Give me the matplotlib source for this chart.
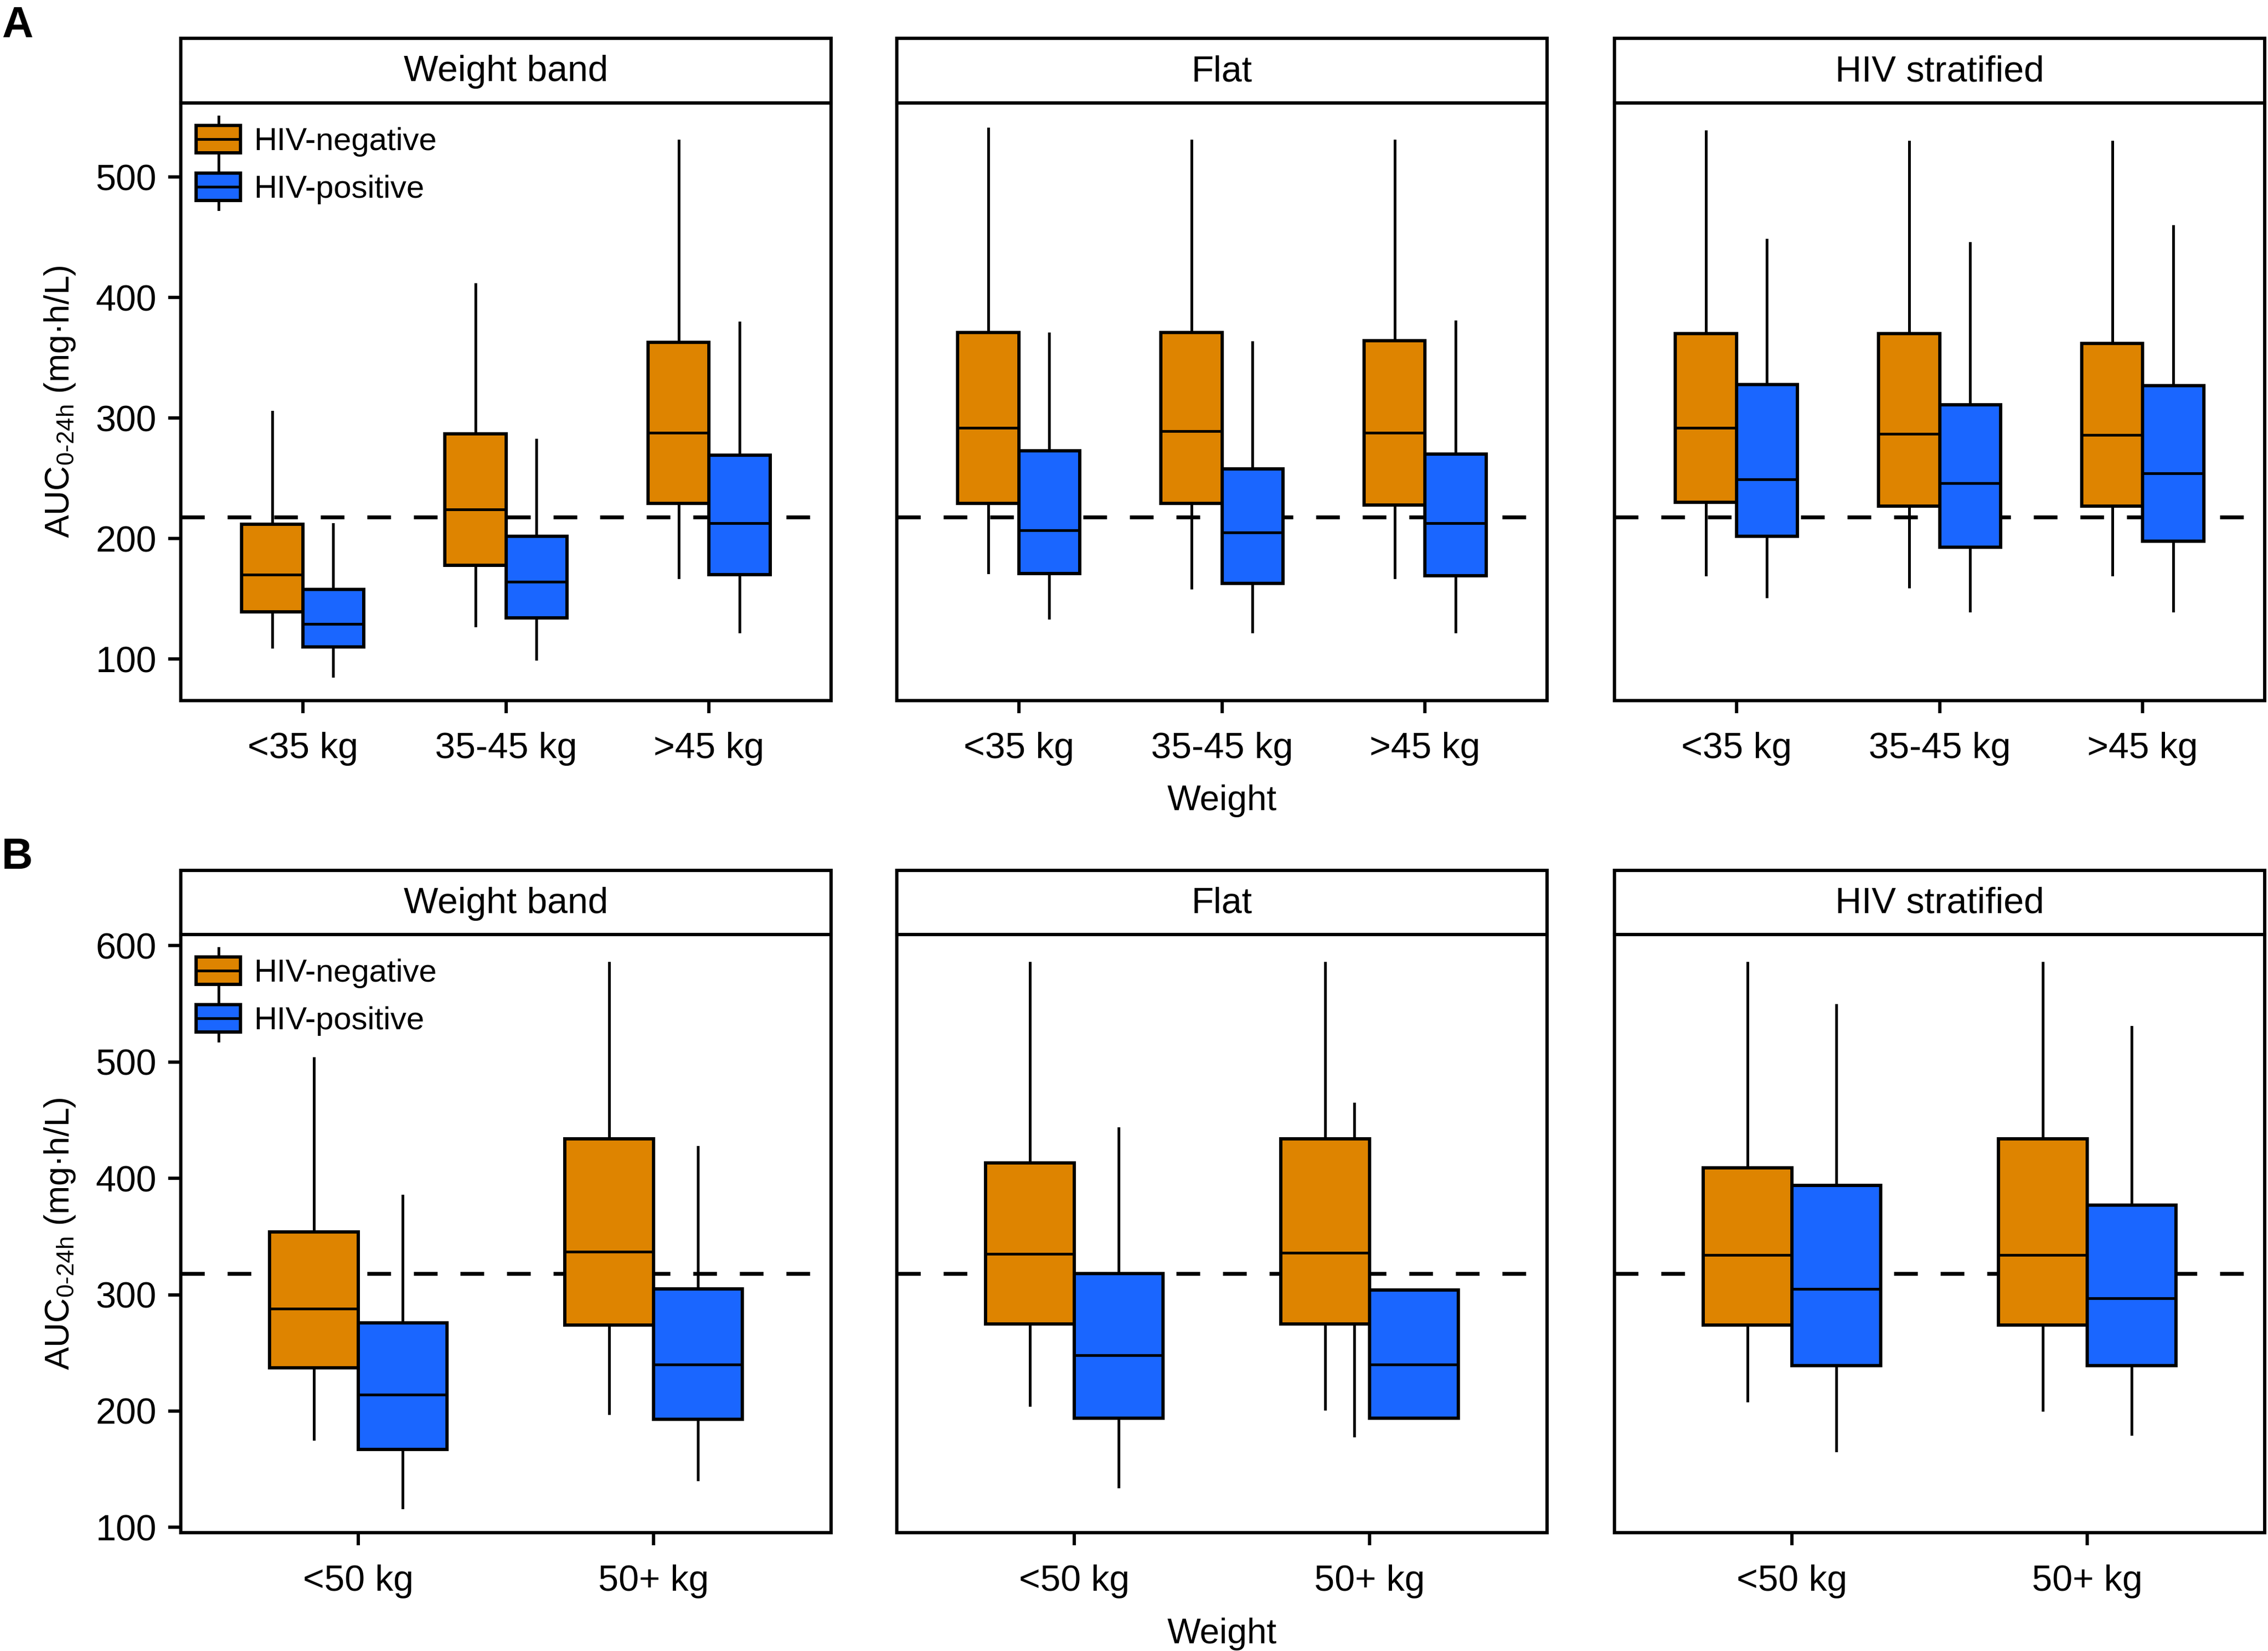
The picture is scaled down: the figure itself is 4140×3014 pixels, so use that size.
import numpy as np
import matplotlib
matplotlib.use('Agg')
import matplotlib.pyplot as plt
from matplotlib.legend_handler import HandlerBase
from matplotlib.lines import Line2D
from matplotlib.patches import Patch, Rectangle

plt.rcParams['font.family'] = ['Liberation Sans', 'DejaVu Sans']
plt.rcParams['mathtext.fontset'] = 'custom'
plt.rcParams['mathtext.rm'] = 'Liberation Sans'
plt.rcParams['mathtext.it'] = 'Liberation Sans:italic'

schemes = ['Weight band', 'Flat', 'HIV stratified']
series = ['HIV-negative', 'HIV-positive']

# (whisker low, q1, median, q3, whisker high) per scheme, per weight group
groups_a = ['<35 kg', '35-45 kg', '>45 kg']
a_neg = [[(110, 139, 170, 212, 305), (128, 178, 224, 287, 411), (168, 229, 288, 363, 530)],
         [(172, 229, 292, 371, 540), (159, 229, 289, 371, 530), (168, 228, 288, 364, 530)],
         [(170, 230, 292, 370, 538), (160, 227, 287, 370, 529), (170, 227, 286, 362, 529)]]
a_pos = [[(86, 110, 129, 158, 212), (100, 134, 164, 202, 282), (123, 170, 213, 269, 379)],
         [(134, 171, 207, 273, 370), (123, 163, 205, 258, 363), (123, 169, 213, 270, 380)],
         [(152, 202, 249, 328, 448), (140, 193, 246, 311, 445), (140, 198, 254, 327, 459)]]
target_a = 218

groups_b = ['<50 kg', '50+ kg']
b_neg = [[(176, 237, 288, 354, 503), (198, 274, 337, 434, 585)],
         [(205, 275, 335, 413, 585), (202, 275, 336, 434, 585)],
         [(209, 274, 334, 409, 585), (201, 274, 334, 434, 585)]]
b_pos = [[(117, 167, 214, 276, 385), (141, 193, 240, 305, 427)],
         [(135, 194, 248, 318, 443), (179, 194, 240, 304, 464)],
         [(166, 239, 305, 394, 549), (180, 239, 297, 377, 530)]]
target_b = 318

ORANGE = '#DE8400'
BLUE = '#1A66FF'
LW = 1.45
WLW = 1.2

W, H = 4140, 3014
fig = plt.figure(figsize=(W / 300, H / 300), dpi=300)


class BoxHandler(HandlerBase):
    def create_artists(self, legend, orig_handle, xdescent, ydescent,
                       width, height, fontsize, trans):
        x0, y0 = -xdescent, -ydescent
        ext = 0.33 * height
        wh = Line2D([x0 + width / 2] * 2, [y0 - ext, y0 + height + ext],
                    color='black', lw=WLW, transform=trans)
        box = Rectangle((x0, y0), width, height, facecolor=orig_handle.get_facecolor(),
                        edgecolor='black', lw=LW, transform=trans)
        med = Line2D([x0, x0 + width], [y0 + height / 2] * 2,
                     color='black', lw=WLW, transform=trans)
        return [wh, box, med]


def px_axes(left, top, width, height):
    return fig.add_axes([left / W, 1 - (top + height) / H, width / W, height / H])


def draw_panel(ax, groups, neg, pos, ylim, yticks, target, quirk=None):
    x = np.arange(1, len(groups) + 1)
    ax.axhline(target, color='black', lw=1.7, ls=(0, (6.1, 5.9)), zorder=1.5)
    arts = []
    for vals, off, color in ((neg, -0.15, ORANGE), (pos, 0.15, BLUE)):
        stats = [dict(whislo=v[0], q1=v[1], med=v[2], q3=v[3], whishi=v[4], fliers=[])
                 for v in vals]
        arts.append(ax.bxp(stats, positions=x + off, widths=0.3, patch_artist=True,
                           showcaps=False, showfliers=False, manage_ticks=False,
                           boxprops=dict(facecolor=color, edgecolor='black', linewidth=LW),
                           medianprops=dict(color='black', linewidth=WLW),
                           whiskerprops=dict(color='black', linewidth=WLW)))
    if quirk is not None:
        # in the original this whisker sits off-centre, behind the orange box
        g, xpos = quirk
        lo, hi = arts[1]['whiskers'][2 * g], arts[1]['whiskers'][2 * g + 1]
        lo.set_data([xpos, xpos], [pos[g][0], pos[g][4]])
        hi.set_visible(False)
        lo.set_zorder(1.8)
    ax.set_xlim(0.4, len(groups) + 0.6)
    ax.set_ylim(*ylim)
    ax.set_xticks(x)
    ax.set_xticklabels(groups)
    ax.set_yticks(yticks)
    ax.tick_params(axis='both', direction='out', length=5.6, width=LW, labelsize=16)
    ax.tick_params(axis='x', pad=8.2)
    ax.tick_params(axis='y', pad=5)
    for sp in ax.spines.values():
        sp.set_linewidth(LW)


def header(left, top, width, height, text):
    hax = px_axes(left, top, width, height)
    hax.set_xticks([])
    hax.set_yticks([])
    for sp in hax.spines.values():
        sp.set_linewidth(LW)
    hax.text(0.5, 0.48, text, ha='center', va='center', fontsize=16, transform=hax.transAxes)


lefts = [330, 1637, 2947]
pw = 1187
rows = [
    dict(htop=70, atop=188, ah=1091, groups=groups_a, neg=a_neg, pos=a_pos,
         ylim=(65.5, 561.5), yticks=[100, 200, 300, 400, 500], target=target_a,
         tag='A', tag_y=10, xlab_y=1462),
    dict(htop=1589, atop=1706, ah=1092, groups=groups_b, neg=b_neg, pos=b_pos,
         ylim=(95.5, 609.5), yticks=[100, 200, 300, 400, 500, 600], target=target_b,
         tag='B', tag_y=1528, xlab_y=2983),
]

for r, row in enumerate(rows):
    for c, name in enumerate(schemes):
        header(lefts[c], row['htop'], pw, row['atop'] - row['htop'], name)
        ax = px_axes(lefts[c], row['atop'], pw, row['ah'])
        quirk = (1, 1.948) if (r == 1 and c == 1) else None
        draw_panel(ax, row['groups'], row['neg'][c], row['pos'][c], row['ylim'],
                   row['yticks'], row['target'], quirk)
        if c == 0:
            ax.set_ylabel(r'AUC$_{\mathregular{0\text{-}24h}}$ (mg·h/L)', fontsize=15, labelpad=8)
            handles = [Patch(facecolor=ORANGE), Patch(facecolor=BLUE)]
            ax.legend(handles, series, loc='upper left', bbox_to_anchor=(0.0236, 0.962),
                      frameon=False, fontsize=14, handlelength=1.39, handleheight=0.93,
                      handletextpad=0.42, labelspacing=0.51, borderaxespad=0, borderpad=0,
                      handler_map={Patch: BoxHandler()})
        else:
            ax.tick_params(axis='y', left=False, labelleft=False)
    fig.text(3 / W, 1 - row['tag_y'] / H, row['tag'], fontsize=19, fontweight='bold',
             ha='left', va='top')
    fig.text((lefts[1] + pw / 2) / W, 1 - row['xlab_y'] / H, 'Weight', fontsize=15.5,
             ha='center', va='center')

fig.savefig('out.png', dpi=300)
